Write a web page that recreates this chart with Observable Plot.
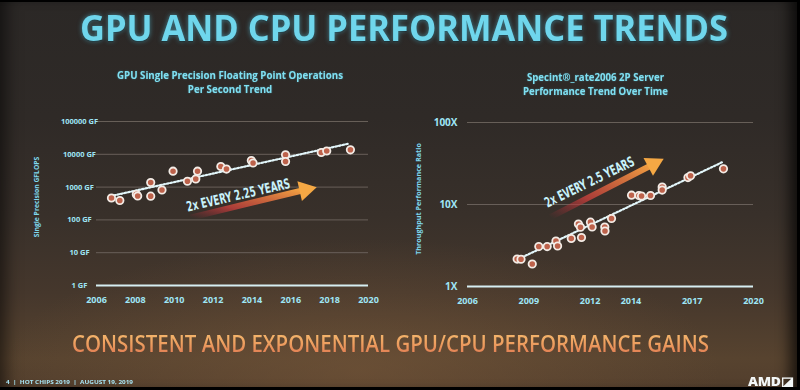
<!DOCTYPE html>
<html><head><meta charset="utf-8">
<script src="https://cdn.jsdelivr.net/npm/d3@7"></script>
<script src="https://cdn.jsdelivr.net/npm/@observablehq/plot@0.6"></script>
<style>
html,body{margin:0;padding:0;width:800px;height:390px;overflow:hidden;background:#000;}
#bg{position:absolute;left:0;top:0;width:800px;height:390px;
 background:
  radial-gradient(ellipse 60% 45% at 45% 95%, rgba(120,88,58,0.55), rgba(0,0,0,0) 75%),
  linear-gradient(180deg,#2b2826 0%,#2f2a27 30%,#38302a 55%,#45372c 75%,#57432f 92%,#523e2d 100%);
 box-shadow: inset 14px 0 16px -8px rgba(0,0,0,.55), inset -16px 0 14px -6px rgba(0,0,0,.7);}
.edge{position:absolute;background:#000;}
.txt{position:absolute;white-space:nowrap;transform-origin:left top;line-height:1;}
#title{left:80px;top:10px;font-family:"Open Sans",sans-serif;font-weight:700;font-size:36px;color:#6fd6ec;
 text-shadow:0 0 5px rgba(90,210,240,.55),0 1px 1px rgba(0,0,0,.5);}
.ctitle{font-family:"Open Sans",sans-serif;font-weight:700;font-size:11px;color:#7fe0f2;line-height:13.5px;text-align:center;text-shadow:0 0 2px rgba(100,220,250,.4);}
#t1{left:117px;top:68px;}
#t2{left:523px;top:70px;}
.ylab{position:absolute;white-space:nowrap;font-family:"Open Sans",sans-serif;font-weight:700;color:#7fd8ee;transform:translate(-50%,-50%) rotate(-90deg);line-height:1;}
#yl1{left:37px;top:197px;font-size:6.8px;}
#yl2{left:419px;top:199px;font-size:7.2px;}
#sub{left:72px;top:331px;font-family:"Open Sans",sans-serif;font-weight:600;font-size:24px;
 background:linear-gradient(180deg,#f6bd70 0%,#eea060 50%,#e07a52 100%);-webkit-background-clip:text;background-clip:text;color:transparent;}
#foot{left:6px;top:379px;font-family:"Open Sans",sans-serif;font-weight:700;font-size:6px;color:#a8e4f4;}
#amd{left:748px;top:375px;font-family:"Open Sans",sans-serif;font-weight:800;font-size:13px;color:#f2f6f6;letter-spacing:-0.3px;}
#c1,#c2{position:absolute;top:100px;}
#c1{left:0px;} #c2{left:400px;}
</style></head><body>
<div id="bg"></div>
<svg width="0" height="0" style="position:absolute">
 <defs>
  <linearGradient id="arrowGradL" x1="0" y1="1" x2="1" y2="0">
   <stop offset="0" stop-color="#b02838" stop-opacity="0"/>
   <stop offset="0.35" stop-color="#c8403c" stop-opacity="0.8"/>
   <stop offset="1" stop-color="#f4a442" stop-opacity="1"/>
  </linearGradient>
  <linearGradient id="arrowGradR" x1="0" y1="1" x2="1" y2="0">
   <stop offset="0" stop-color="#b02838" stop-opacity="0"/>
   <stop offset="0.35" stop-color="#c8403c" stop-opacity="0.8"/>
   <stop offset="1" stop-color="#f4a442" stop-opacity="1"/>
  </linearGradient>
 </defs>
</svg>
<div id="title" class="txt">GPU AND CPU PERFORMANCE TRENDS</div>
<div id="t1" class="txt ctitle">GPU Single Precision Floating Point Operations<br>Per Second Trend</div>
<div id="t2" class="txt ctitle">Specint®_rate2006 2P Server<br>Performance Trend Over Time</div>
<div id="yl1" class="ylab">Single Precision GFLOPS</div>
<div id="yl2" class="ylab">Throughput Performance Ratio</div>
<div id="c1"></div>
<div id="c2"></div>
<div id="sub" class="txt">CONSISTENT AND EXPONENTIAL GPU/CPU PERFORMANCE GAINS</div>
<div id="foot" class="txt">4 &nbsp;|&nbsp; HOT CHIPS 2019 &nbsp;|&nbsp; AUGUST 19, 2019</div>
<div id="amd" class="txt">AMD◪</div>
<div class="edge" style="left:0;top:0;width:800px;height:2px"></div>
<div class="edge" style="left:0;top:387px;width:800px;height:3px"></div>
<div class="edge" style="left:797px;top:0;width:3px;height:390px"></div>
<script>
// ---------- data ----------
// GPU chart
const gpuYear   = [2006.77, 2007.2, 2008.05, 2008.12, 2008.79, 2008.79, 2009.37, 2009.94, 2010.68, 2011.11, 2011.2, 2012.4, 2012.69, 2013.97, 2014.06, 2015.73, 2015.73, 2017.57, 2017.85, 2019.07];
const gpuGflops = [466, 390, 600, 535, 1380, 530, 815, 3050, 1510, 1770, 3050, 4250, 3550, 6460, 5430, 9660, 6030, 11350, 12600, 13700];
const gpuTrendYear  = [2006.72, 2018.95];
const gpuTrendValue = [530, 20900];
const gpuArrowYear  = [2010.84, 2016.75];
const gpuArrowValue = [118, 830];
const gpuNoteYear = [2013.3];
const gpuNoteValue = [560];
const gpuNoteText = ["2x EVERY 2.25 YEARS"];
const gpuTicks = [1, 10, 100, 1000, 10000, 100000];
const gpuGrid = [10, 100, 1000, 10000, 100000];
const gpuXTicks = [2006, 2008, 2010, 2012, 2014, 2016, 2018, 2020];

// CPU chart
const cpuYear  = [2008.43, 2008.62, 2009.17, 2009.49, 2009.9, 2010.33, 2010.41, 2011.08, 2011.58, 2011.43, 2011.53, 2012.02, 2012.1, 2012.72, 2012.73, 2013.05, 2014.03, 2014.39, 2014.52, 2014.96, 2015.53, 2015.53, 2016.79, 2016.92, 2018.53];
const cpuRatio = [2.16, 2.15, 1.88, 3.07, 3.07, 3.59, 3.12, 3.85, 3.96, 5.78, 5.29, 6.09, 5.32, 5.32, 4.75, 6.75, 12.98, 12.88, 12.7, 12.88, 16.3, 15.0, 21.3, 22.4, 27.2];
const cpuTrendYear  = [2008.35, 2018.47];
const cpuTrendValue = [2.08, 32.8];
const cpuArrowYear  = [2010.06, 2015.1];
const cpuArrowValue = [7.0, 31];
const cpuNoteYear = [2011.97];
const cpuNoteValue = [18.7];
const cpuNoteText = ["2x EVERY 2.5 YEARS"];
const cpuTicks = [1, 10, 100];
const cpuGrid = [10, 100];
const cpuXTicks = [2006, 2009, 2012, 2014, 2017, 2020];

// ---------- helpers ----------
const AX = "#9fe6f6";
const NARROW = '"Liberation Sans Narrow","DejaVu Sans Condensed","Arial Narrow",sans-serif';
function pts(xs, ys) { return xs.map((x, i) => ({x, y: ys[i]})); }

function chart(o) {
  const data = pts(o.xs, o.ys);
  const trend = pts(o.trendX, o.trendY);
  const arrow = [{x1: o.arrowX[0], y1: o.arrowY[0], x2: o.arrowX[1], y2: o.arrowY[1]}];
  const head = [{x: o.arrowX[1], y: o.arrowY[1]}];
  const note = o.noteX.map((x, i) => ({x, y: o.noteY[i], t: o.noteT[i]}));
  return Plot.plot({
    width: 400, height: 210,
    marginLeft: o.ml, marginRight: o.mr, marginTop: o.mt, marginBottom: o.mb,
    style: {background: "transparent", color: AX, fontFamily: '"Open Sans",sans-serif', overflow: "visible"},
    x: {domain: [2006, 2020]},
    y: {type: "log", domain: o.ydomain},
    marks: [
      Plot.ruleY(o.grid, {stroke: "#6e655e", strokeWidth: 1, strokeOpacity: 0.9}),
      Plot.ruleY([1], {stroke: "#d6eef2", strokeWidth: 2}),
      Plot.axisY(o.yticks, {tickSize: 0, tickPadding: o.ypad, textAnchor: o.yanchor, tickFormat: o.yfmt,
        fontSize: o.yfs, fontWeight: "bold", fill: AX, label: null}),
      Plot.axisX(o.xticks, {tickSize: 0, tickPadding: 11, tickFormat: d => String(d),
        fontSize: 9, fontWeight: "bold", fill: AX, label: null}),
      Plot.link(arrow, {x1: "x1", y1: "y1", x2: "x2", y2: "y2", stroke: o.grad, strokeWidth: 6, strokeLinecap: "butt"}),
      Plot.dot(head, {x: "x", y: "y", symbol: "triangle", r: 7.5, fill: "#f5a844", stroke: "none", rotate: o.headRot}),
      Plot.text(note, {x: "x", y: "y", text: "t", rotate: o.noteRot, fontSize: 14, fontWeight: "bold",
        fill: "#c8f2fb", fontFamily: NARROW, className: "note"}),
      Plot.line(trend, {x: "x", y: "y", stroke: "#e2f6fa", strokeWidth: 2.2, strokeDasharray: "1.7,1.9"}),
      Plot.dot(data, {x: "x", y: "y", r: 3.7, fill: "#bd624b", stroke: "#f3ece6", strokeWidth: 1.8})
    ]
  });
}

const left = chart({
  xs: gpuYear, ys: gpuGflops, trendX: gpuTrendYear, trendY: gpuTrendValue,
  arrowX: gpuArrowYear, arrowY: gpuArrowValue, noteX: gpuNoteYear, noteY: gpuNoteValue, noteT: gpuNoteText,
  ml: 96, mr: 32, mt: 21, mb: 25, ydomain: [1, 100000], grid: gpuGrid, yticks: gpuTicks,
  ypad: 17, yanchor: "middle", yfmt: d => d + " GF", yfs: 7.5, xticks: gpuXTicks,
  grad: "url(#arrowGradL)", headRot: 77, noteRot: -13
});
const right = chart({
  xs: cpuYear, ys: cpuRatio, trendX: cpuTrendYear, trendY: cpuTrendValue,
  arrowX: cpuArrowYear, arrowY: cpuArrowValue, noteX: cpuNoteYear, noteY: cpuNoteValue, noteT: cpuNoteText,
  ml: 67, mr: 47, mt: 22, mb: 24, ydomain: [1, 100], grid: cpuGrid, yticks: cpuTicks,
  ypad: 10, yanchor: "end", yfmt: d => d + "X", yfs: 10, xticks: cpuXTicks,
  grad: "url(#arrowGradR)", headRot: 62, noteRot: -26
});
document.getElementById("c1").appendChild(left);
document.getElementById("c2").appendChild(right);

// fit annotation text lengths
function fitNote(svg, len) {
  svg.querySelectorAll("g.note text, .note text").forEach(t => {
    t.setAttribute("textLength", len);
    t.setAttribute("lengthAdjust", "spacingAndGlyphs");
  });
}
fitNote(left, 106);
fitNote(right, 98);

// fit html texts to widths
function fitWidth(id, w) {
  const el = document.getElementById(id);
  const cur = el.getBoundingClientRect().width;
  el.style.transform = `scaleX(${w / cur})`;
}
fitWidth("title", 648);
fitWidth("t1", 226);
fitWidth("t2", 145);
fitWidth("sub", 637);
fitWidth("foot", 127);
fitWidth("amd", 45);
</script>
</body></html>
